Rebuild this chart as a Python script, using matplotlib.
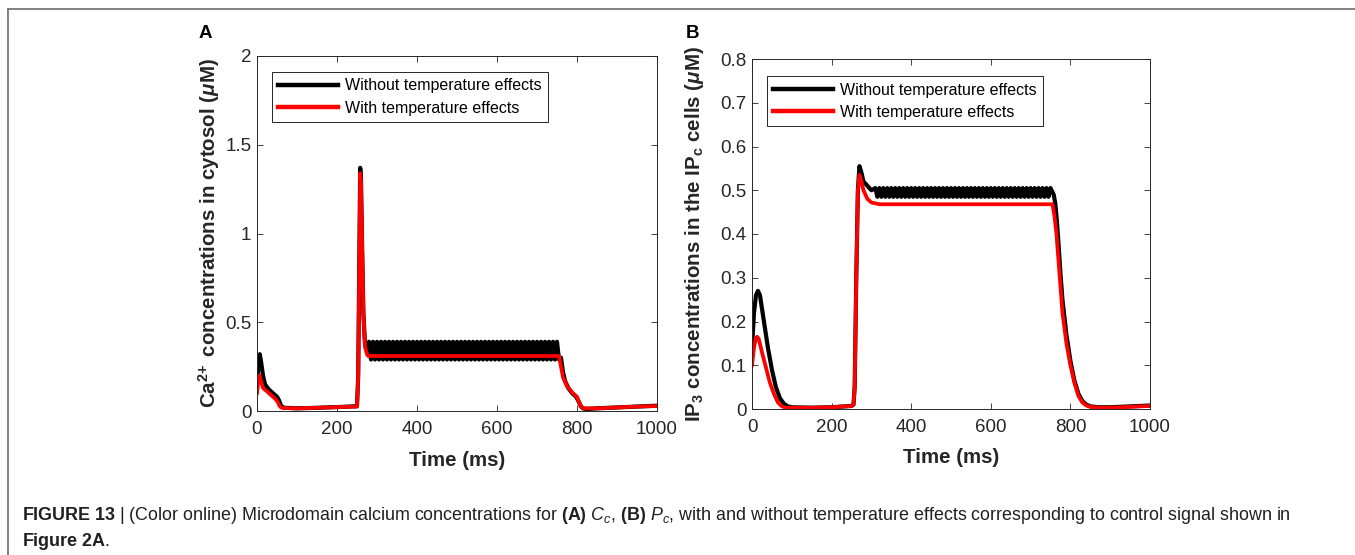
import numpy as np
import matplotlib
matplotlib.use("Agg")
import matplotlib.pyplot as plt
from matplotlib.lines import Line2D
from matplotlib.ticker import FuncFormatter

plt.rcParams['font.family'] = ['Liberation Sans', 'DejaVu Sans']
plt.rcParams['mathtext.fontset'] = 'custom'
plt.rcParams['mathtext.rm'] = 'Liberation Sans'
plt.rcParams['mathtext.it'] = 'Liberation Sans:italic'
plt.rcParams['mathtext.bf'] = 'Liberation Sans:bold'
plt.rcParams['mathtext.sf'] = 'Liberation Sans:bold:italic'

# ---- panel A: Ca2+ in cytosol (uM) ----
ca_blk_t1 = [0, 3, 7, 10, 15, 20, 30, 40, 50, 55, 60, 65, 70, 100, 150, 200, 250,
             253, 256, 258, 260, 263, 266, 270, 275]
ca_blk_v1 = [0.12, 0.25, 0.32, 0.28, 0.20, 0.15, 0.12, 0.10, 0.08, 0.06, 0.03, 0.02,
             0.018, 0.015, 0.018, 0.022, 0.027,
             0.20, 0.90, 1.37, 1.30, 0.90, 0.55, 0.38, 0.35]
# sampled every 5 ms from 280 to 755 ms
ca_blk_osc = [0.39, 0.29, 0.39, 0.29, 0.39, 0.29, 0.39, 0.29, 0.39, 0.29, 0.39, 0.29, 0.39, 0.29, 0.39, 0.29,
              0.39, 0.29, 0.39, 0.29, 0.39, 0.29, 0.39, 0.29, 0.39, 0.29, 0.39, 0.29, 0.39, 0.29, 0.39, 0.29,
              0.39, 0.29, 0.39, 0.29, 0.39, 0.29, 0.39, 0.29, 0.39, 0.29, 0.39, 0.29, 0.39, 0.29, 0.39, 0.29,
              0.39, 0.29, 0.39, 0.29, 0.39, 0.29, 0.39, 0.29, 0.39, 0.29, 0.39, 0.29, 0.39, 0.29, 0.39, 0.29,
              0.39, 0.29, 0.39, 0.29, 0.39, 0.29, 0.39, 0.29, 0.39, 0.29, 0.39, 0.29, 0.39, 0.29, 0.39, 0.29,
              0.39, 0.29, 0.39, 0.29, 0.39, 0.29, 0.39, 0.29, 0.39, 0.29, 0.39, 0.29, 0.39, 0.29, 0.39, 0.29]
ca_blk_t2 = [760, 765, 770, 778, 788, 798, 805, 810, 815, 820, 830, 850, 900, 950, 1000]
ca_blk_v2 = [0.30, 0.22, 0.17, 0.13, 0.10, 0.08, 0.05, 0.025, 0.015, 0.012, 0.012,
             0.015, 0.02, 0.025, 0.03]

ca_red_t = [0, 3, 6, 10, 15, 25, 35, 45, 52, 56, 60, 65, 100, 150, 200, 250,
            253, 256, 258, 260, 263, 266, 270, 275, 278, 300, 400, 500, 600, 700, 755,
            760, 765, 775, 790, 800, 805, 810, 815, 850, 900, 950, 1000]
ca_red_v = [0.10, 0.17, 0.20, 0.17, 0.13, 0.11, 0.09, 0.07, 0.05, 0.03, 0.02, 0.017,
            0.015, 0.018, 0.022, 0.025,
            0.20, 0.85, 1.34, 1.28, 0.90, 0.55, 0.36, 0.32, 0.31, 0.31, 0.31, 0.31, 0.31, 0.31, 0.31,
            0.25, 0.19, 0.14, 0.10, 0.08, 0.05, 0.025, 0.015, 0.015, 0.02, 0.025, 0.028]

# ---- panel B: IP3 in IPc cells (uM) ----
ip_blk_t1 = [0, 5, 10, 15, 20, 30, 40, 50, 60, 70, 80, 90, 100, 150, 200, 250,
             255, 258, 262, 266, 270, 275, 280, 290, 300]
ip_blk_v1 = [0.14, 0.22, 0.26, 0.27, 0.26, 0.20, 0.14, 0.09, 0.05, 0.025, 0.012, 0.006,
             0.004, 0.003, 0.004, 0.007,
             0.01, 0.05, 0.30, 0.50, 0.555, 0.54, 0.52, 0.51, 0.50]
# sampled every 5 ms from 310 to 750 ms
ip_blk_osc = [0.505, 0.485, 0.505, 0.485, 0.505, 0.485, 0.505, 0.485, 0.505, 0.485,
              0.505, 0.485, 0.505, 0.485, 0.505, 0.485, 0.505, 0.485, 0.505, 0.485,
              0.505, 0.485, 0.505, 0.485, 0.505, 0.485, 0.505, 0.485, 0.505, 0.485,
              0.505, 0.485, 0.505, 0.485, 0.505, 0.485, 0.505, 0.485, 0.505, 0.485,
              0.505, 0.485, 0.505, 0.485, 0.505, 0.485, 0.505, 0.485, 0.505, 0.485,
              0.505, 0.485, 0.505, 0.485, 0.505, 0.485, 0.505, 0.485, 0.505, 0.485,
              0.505, 0.485, 0.505, 0.485, 0.505, 0.485, 0.505, 0.485, 0.505, 0.485,
              0.505, 0.485, 0.505, 0.485, 0.505, 0.485, 0.505, 0.485, 0.505, 0.485,
              0.505, 0.485, 0.505, 0.485, 0.505, 0.485, 0.505, 0.485, 0.505]
ip_blk_t2 = [758, 762, 766, 770, 775, 780, 790, 800, 810, 820, 830, 840, 850, 870, 900, 950, 1000]
ip_blk_v2 = [0.49, 0.47, 0.43, 0.38, 0.31, 0.25, 0.17, 0.11, 0.065, 0.035, 0.018, 0.01,
             0.006, 0.004, 0.004, 0.006, 0.008]

ip_red_t = [0, 5, 10, 13, 17, 25, 35, 45, 55, 65, 75, 85, 100, 150, 200, 250,
            255, 258, 262, 266, 270, 275, 280, 290, 300, 320, 400, 500, 600, 700, 755,
            760, 765, 770, 775, 780, 790, 800, 810, 820, 830, 840, 850, 870, 900, 950, 1000]
ip_red_v = [0.10, 0.14, 0.163, 0.165, 0.16, 0.13, 0.095, 0.06, 0.035, 0.015, 0.006, 0.003,
            0.003, 0.003, 0.004, 0.007,
            0.01, 0.05, 0.30, 0.50, 0.535, 0.52, 0.50, 0.48, 0.472, 0.468, 0.468, 0.468, 0.468, 0.468, 0.468,
            0.44, 0.40, 0.34, 0.28, 0.22, 0.15, 0.10, 0.06, 0.03, 0.015, 0.008, 0.005, 0.003, 0.003, 0.005, 0.007]

ca_osc_t = np.arange(280, 760, 5)
ip_osc_t = np.arange(310, 755, 5)

ca_black_t = np.concatenate([ca_blk_t1, ca_osc_t, ca_blk_t2])
ca_black_v = np.concatenate([ca_blk_v1, ca_blk_osc, ca_blk_v2])
ip_black_t = np.concatenate([ip_blk_t1, ip_osc_t, ip_blk_t2])
ip_black_v = np.concatenate([ip_blk_v1, ip_blk_osc, ip_blk_v2])

TXT = '#262626'
W, H = 1355, 555
fig = plt.figure(figsize=(W / 100, H / 100), dpi=100)

axA = fig.add_axes([257 / W, 1 - 411 / H, 400 / W, 355 / H])
axB = fig.add_axes([752 / W, 1 - 409 / H, 398 / W, 350 / H])

fmt = FuncFormatter(lambda v, p: '%g' % v)

panels = [
    (axA, ca_black_t, ca_black_v, ca_red_t, ca_red_v, 2.0, [0, 0.5, 1, 1.5, 2],
     r'Ca$^{\mathbf{2\!+}}$ concentrations in cytosol ($\mathsf{\mu}$M)', -0.087, (0.0375, 0.955)),
    (axB, ip_black_t, ip_black_v, ip_red_t, ip_red_v, 0.8, np.round(np.arange(0, 0.81, 0.1), 1),
     r'IP$_{\mathbf{3}}$ concentrations in the IP$_{\mathbf{c}}$ cells ($\mathsf{\mu}$M)', -0.115, (0.0377, 0.951)),
]

for ax, bt, bv, rt, rv, ymax, yt, ylab, ylx, legpos in panels:
    ax.plot(bt, bv, color='black', lw=3.0, solid_joinstyle='round')
    ax.plot(rt, rv, color='#ff0000', lw=2.7, solid_joinstyle='round')
    ax.set_xlim(0, 1000)
    ax.set_ylim(0, ymax)
    ax.set_xticks([0, 200, 400, 600, 800, 1000])
    ax.set_yticks(yt)
    ax.yaxis.set_major_formatter(fmt)
    ax.tick_params(direction='in', top=True, right=True, length=4, width=0.6,
                   colors=TXT, labelsize=13.5)
    ax.tick_params(axis='x', pad=7)
    ax.tick_params(axis='y', pad=4)
    for s in ax.spines.values():
        s.set_color(TXT)
        s.set_linewidth(0.7)
    ax.set_xlabel('Time (ms)', fontsize=14.8, fontweight='bold', color=TXT)
    ax.set_ylabel(ylab, fontsize=14.8, fontweight='bold', color=TXT)
    ax.xaxis.set_label_coords(0.5, -0.112)
    ax.yaxis.set_label_coords(ylx, 0.5)
    handles = [Line2D([], [], color='black', lw=3.2), Line2D([], [], color='#ff0000', lw=3.2)]
    leg = ax.legend(handles, ['Without temperature effects', 'With temperature effects'],
                    loc='upper left', bbox_to_anchor=legpos, borderaxespad=0,
                    fontsize=11.5, fancybox=False, framealpha=1, handlelength=3.75,
                    handletextpad=0.4, borderpad=0.4, labelspacing=0.45)
    leg.get_frame().set_edgecolor(TXT)
    leg.get_frame().set_linewidth(0.7)
    for t in leg.get_texts():
        t.set_color('black')

fig.text(205 / W, 1 - 33 / H, 'A', fontsize=13.5, fontweight='bold', ha='center', va='center')
fig.text(693 / W, 1 - 33 / H, 'B', fontsize=13.5, fontweight='bold', ha='center', va='center')

# outer frame (open on right and bottom)
fig.add_artist(Line2D([8 / W, 1], [1 - 9 / H, 1 - 9 / H], color='#777777', lw=1.3))
fig.add_artist(Line2D([8 / W, 8 / W], [0, 1 - 9 / H], color='#777777', lw=1.3))

cap1 = (r'$\mathbf{FIGURE\ 13}$ | (Color online) Microdomain calcium concentrations for '
        r'$\mathbf{(A)}$ $C_c$, $\mathbf{(B)}$ $P_c$, with and without temperature effects '
        r'corresponding to control signal shown in')
cap2 = r'$\mathbf{Figure\ 2A}$.'
fig.text(22 / W, 1 - 516 / H, cap1, fontsize=12.9, color='#231f20', ha='left', va='center')
fig.text(22 / W, 1 - 541 / H, cap2, fontsize=12.9, color='#231f20', ha='left', va='center')

fig.savefig('out.png', dpi=100)
